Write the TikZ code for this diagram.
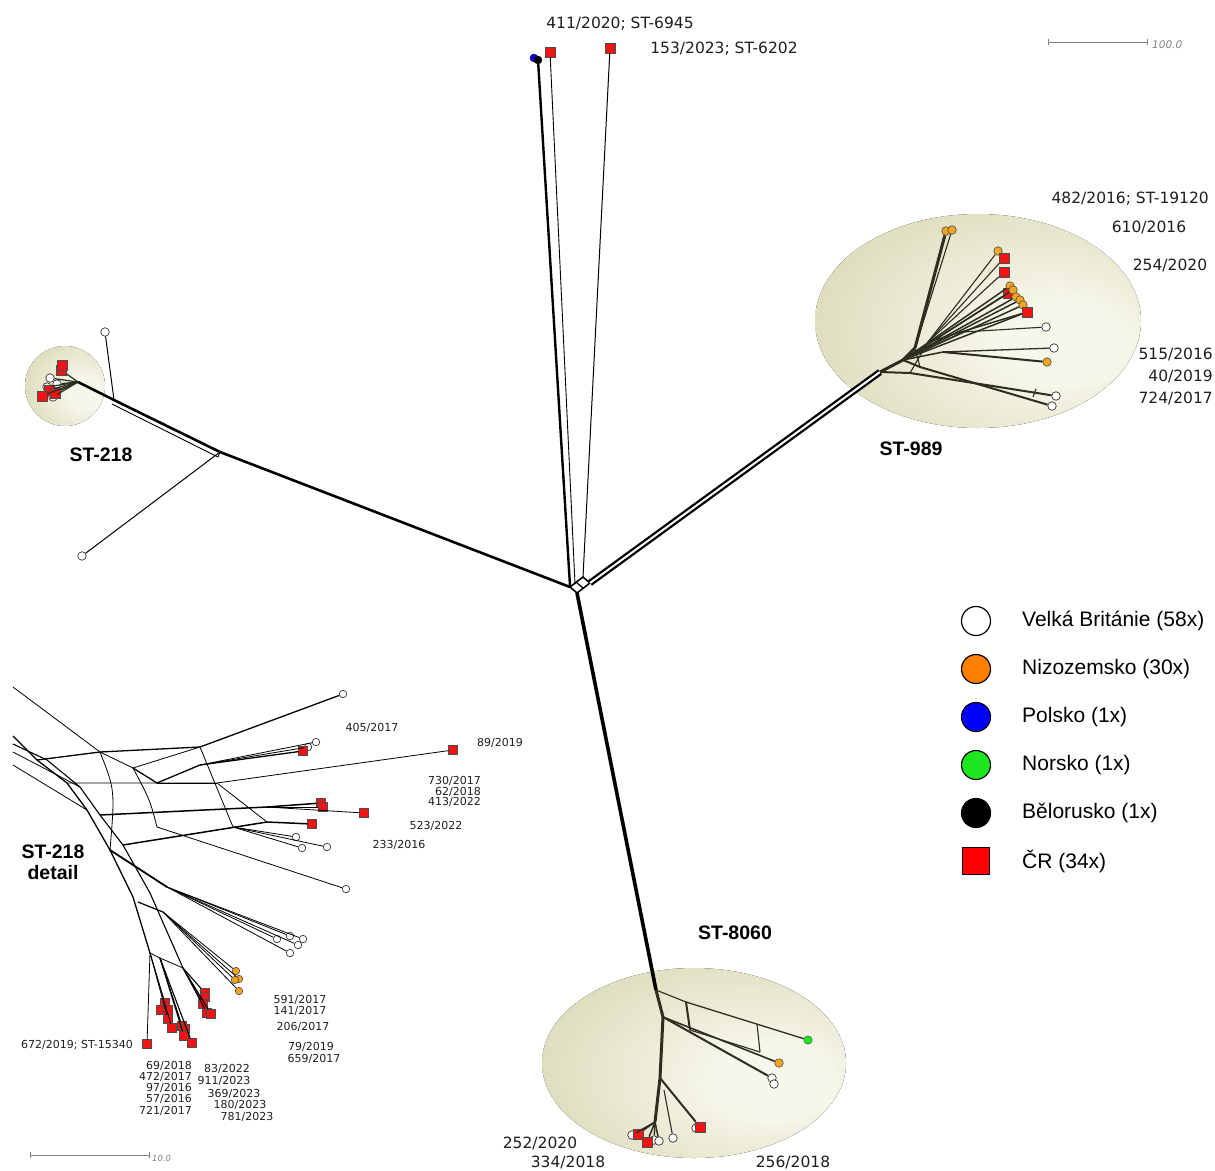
\documentclass[tikz,border=0pt]{standalone}
\usepackage{fontspec}
\setmainfont{DejaVu Sans}
\newfontfamily\arialfont{Liberation Sans}
\usepackage{xcolor}
\usetikzlibrary{arrows.meta}

\definecolor{hullin}{RGB}{246,246,234}
\definecolor{hullout}{RGB}{204,200,152}
\definecolor{fanline}{RGB}{45,45,32}
\definecolor{leaforange}{RGB}{242,165,30}
\definecolor{legorange}{RGB}{255,128,0}
\definecolor{czred}{RGB}{240,20,20}
\definecolor{legred}{RGB}{255,0,0}
\definecolor{plblue}{RGB}{0,0,255}
\definecolor{nogreen}{RGB}{30,230,30}
\definecolor{labelgray}{RGB}{30,30,30}

\pgfdeclareradialshading{hullshade}{\pgfpoint{16bp}{-6bp}}{color(0bp)=(hullin); color(10bp)=(hullin); color(50bp)=(hullout)}

\begin{document}
\begin{tikzpicture}[x=1pt,y=-1pt]
\tikzstyle{ukleaf}=[circle,draw=black!80,fill=white,inner sep=0pt,minimum size=8.5pt,line width=0.7pt]
\tikzstyle{nlleaf}=[circle,draw=black!70,fill=leaforange,inner sep=0pt,minimum size=8.5pt,line width=0.6pt]
\tikzstyle{czleaf}=[rectangle,draw=black!70,fill=czred,inner sep=0pt,minimum size=10pt,line width=0.6pt]
\tikzstyle{plleaf}=[circle,draw=black,fill=plblue,inner sep=0pt,minimum size=8pt]
\tikzstyle{byleaf}=[circle,draw=black,fill=black,inner sep=0pt,minimum size=8pt]
\tikzstyle{noleaf}=[circle,draw=black!70,fill=nogreen,inner sep=0pt,minimum size=8.5pt]
\tikzstyle{lbl}=[font=\fontsize{15.5}{17}\selectfont,text=labelgray,inner sep=0pt]
\tikzstyle{dlbl}=[font=\fontsize{11}{12}\selectfont,text=labelgray,inner sep=0pt]
\tikzstyle{stname}=[font=\arialfont\bfseries\fontsize{19.5}{21}\selectfont,align=center,inner sep=0pt]
\tikzstyle{legkey}=[circle,draw=black,line width=1.2pt,inner sep=0pt,minimum size=29pt]
\tikzstyle{legtext}=[font=\arialfont\fontsize{21}{23}\selectfont,anchor=west,inner sep=0pt]
\tikzstyle{fan}=[fanline,line width=1.1pt]
\tikzstyle{dline}=[black,line width=0.8pt]
\tikzstyle{scalebar}=[gray,line width=0.8pt,{Bar[width=6pt]}-{Bar[width=6pt]}]

\useasboundingbox (0,0) rectangle (1215,1170);

% hulls
\fill[shading=hullshade] (65,386) circle [radius=40pt];
\fill[shading=hullshade] (978,321) ellipse [x radius=163pt, y radius=107pt];
\fill[shading=hullshade] (694,1063) ellipse [x radius=152pt, y radius=95pt];

% centre box
\coordinate (hA) at (570,587);
\coordinate (hB) at (577,593);
\coordinate (hC) at (590,583);
\coordinate (hD) at (583,577);
\coordinate (hE) at (576,582);
\coordinate (hF) at (583,588);
\draw[line width=1.6pt] (hA) -- (hB) -- (hC) -- (hD) -- cycle;
\draw[line width=1.2pt] (hE) -- (hF);

% left branch, ST-218
\coordinate (l1) at (220,452);
\coordinate (l2) at (114,400);
\coordinate (l3) at (78,382);
\coordinate (l1b) at (218,457);
\coordinate (l2b) at (112,404);
\node[ukleaf] (u1) at (105,332) {};
\node[ukleaf] (u2) at (82,556) {};
\draw[line width=2.6pt] (hA) -- (l1) -- (l2) -- (l3);
\draw[line width=0.9pt] (l1b) -- (l2b);
\draw[line width=0.9pt] (l1) -- (l1b);
\draw[line width=1pt] (l1) -- (u2);
\draw[line width=1pt] (l2) -- (u1);
\node[ukleaf] (a1) at (50,378) {};
\node[ukleaf] (a2) at (47,387) {};
\node[ukleaf] (a3) at (53,397) {};
\node[ukleaf] (a4) at (57,384) {};
\node[czleaf] (r1) at (61,370) {};
\node[czleaf] (r2) at (62,365) {};
\node[czleaf] (r3) at (49,390) {};
\node[czleaf] (r4) at (55,393) {};
\node[czleaf] (r5) at (42,396) {};
\foreach \leaf in {a1,a2,a3,a4,r1,r3,r4,r5}
  \draw[fan,line width=1.2pt] (l3) -- (\leaf);
\node[stname] (st218) at (101,455) {ST-218};

% top branch
\coordinate (t1) at (570,586);
\coordinate (t2) at (575,584);
\node[plleaf] (pl) at (534,58) {};
\node[byleaf] (by) at (538,60) {};
\node[czleaf] (c1) at (550,52) {};
\node[czleaf] (c2) at (610,48) {};
\draw[line width=2.4pt] (t1) -- (by);
\draw[line width=0.9pt] (t2) -- (c1);
\draw[line width=1pt] (hD) -- (c2);
\node[lbl] (lc1) at (620,24) {411/2020; ST-6945};
\node[lbl] (lc2) at (724,49) {153/2023; ST-6202};

% right branch, ST-989
\coordinate (e0) at (880,372);
\coordinate (e1) at (903,360);
\coordinate (e2) at (915,348);
\coordinate (e3) at (928,342);
\coordinate (e4) at (943,352);
\coordinate (e5) at (963,332);
\coordinate (e6) at (910,373);
\coordinate (e7) at (920,367);
\coordinate (e8) at (1033,397);
\coordinate (e9) at (1036,389);
\draw[line width=2.3pt,double,double distance=2pt] (hC) -- (e0);
\draw[fan,line width=3pt] (e0) -- (e1) -- (e2);
\node[nlleaf] (n1) at (946,231) {};
\node[nlleaf] (n2) at (952,230) {};
\node[nlleaf] (n3) at (998,251) {};
\node[czleaf] (q1) at (1004,258) {};
\node[czleaf] (q2) at (1004,272) {};
\node[nlleaf] (n4) at (1010,286) {};
\node[czleaf] (q3) at (1008,293) {};
\node[nlleaf] (n5) at (1013,290) {};
\node[nlleaf] (n6) at (1016,297) {};
\node[nlleaf] (n7) at (1020,300) {};
\node[nlleaf] (n8) at (1023,305) {};
\node[czleaf] (q4) at (1027,312) {};
\node[ukleaf] (w1) at (1046,327) {};
\node[ukleaf] (w2) at (1054,348) {};
\node[nlleaf] (n9) at (1047,362) {};
\node[ukleaf] (w3) at (1056,396) {};
\node[ukleaf] (w4) at (1052,406) {};
\draw[fan,line width=3pt] (e2) -- (n1);
\draw[fan] (e2) -- (n2);
\foreach \leaf in {n3,q1,q2}
  \draw[fan] (e3) -- (\leaf);
\foreach \leaf in {n4,q3,n5,n6,n7,n8,q4}
  \draw[fan,line width=1.5pt] (e1) -- (\leaf);
\draw[fan,line width=1.5pt] (e3) -- (q4);
\draw[fan] (e5) -- (w1);
\draw[fan] (e1) -- (e5);
\draw[fan,line width=1.3pt] (e4) -- (w2);
\draw[fan,line width=2pt] (e4) -- (n9);
\draw[fan,line width=1.5pt] (e1) -- (e4);
\draw[fan,line width=2pt] (e0) -- (e6) -- (w3);
\draw[fan,line width=2pt] (e1) -- (e7) -- (w4);
\draw[fan] (e8) -- (e9);
\draw[fan] (e6) -- (e3);
\draw[fan] (e7) -- (e2);
\node[stname] (st989) at (911,449) {ST-989};
\node[lbl,anchor=east] (lq1) at (1209,199) {482/2016; ST-19120};
\node[lbl] (lq2) at (1149,227) {610/2016};
\node[lbl] (lq3) at (1170,265) {254/2020};
\node[lbl,anchor=east] (lq4) at (1213,354) {515/2016};
\node[lbl,anchor=east] (lq5) at (1213,376) {40/2019};
\node[lbl,anchor=east] (lq6) at (1213,398) {724/2017};

% bottom branch, ST-8060
\coordinate (b1) at (656,990);
\coordinate (b2) at (663,1017);
\coordinate (b3) at (686,1002);
\coordinate (b4) at (690,1030);
\coordinate (b5) at (660,1078);
\coordinate (b6) at (664,1090);
\coordinate (b7) at (655,1122);
\coordinate (x1) at (757,1024);
\coordinate (x2) at (760,1052);
\draw[line width=3.6pt] (hB) -- (b1);
\node[noleaf] (g1) at (808,1040) {};
\node[nlleaf] (n10) at (779,1063) {};
\node[ukleaf] (w5) at (772,1078) {};
\node[ukleaf] (w6) at (774,1084) {};
\node[ukleaf] (w7) at (696,1128) {};
\node[czleaf] (q5) at (700,1127) {};
\node[ukleaf] (w8) at (673,1138) {};
\node[ukleaf] (w9) at (632,1135) {};
\node[ukleaf] (w10) at (654,1140) {};
\node[ukleaf] (w11) at (659,1141) {};
\node[czleaf] (q6) at (638,1134) {};
\node[czleaf] (q7) at (647,1142) {};
\draw[fan,line width=3pt] (b1) -- (b2) -- (b5) -- (b7);
\draw[fan] (b1) -- (b3);
\draw[fan,line width=2pt] (b3) -- (b4);
\draw[fan,line width=1.3pt] (b3) -- (g1);
\draw[fan,line width=1.6pt] (b2) -- (n10);
\draw[fan,line width=2pt] (b2) -- (w5);
\draw[fan] (b4) -- (x2);
\draw[fan] (x1) -- (x2);
\draw[fan,line width=2pt] (b5) -- (q5);
\draw[fan] (b6) -- (w8);
\foreach \leaf in {w9,w10,w11,q6,q7}
  \draw[fan,line width=1.5pt] (b7) -- (\leaf);
\node[stname] (st8060) at (735,933) {ST-8060};
\node[lbl] (lb1) at (540,1143) {252/2020};
\node[lbl] (lb2) at (568,1162) {334/2018};
\node[lbl] (lb3) at (793,1162) {256/2018};

% ST-218 detail
\coordinate (dt) at (13,687);
\coordinate (da) at (13,736);
\coordinate (db) at (13,744);
\coordinate (dc) at (13,752);
\coordinate (dd) at (13,765);
\coordinate (sa1) at (37,760);
\coordinate (sa2) at (67,783);
\coordinate (sa3) at (87,810);
\coordinate (sa4) at (110,850);
\coordinate (sa5) at (133,897);
\coordinate (sb1) at (47,760);
\coordinate (sb2) at (80,787);
\coordinate (sb3) at (100,815);
\coordinate (sb4) at (123,845);
\coordinate (sb5) at (150,893);
\coordinate (j1) at (100,752);
\coordinate (j2) at (133,768);
\coordinate (j3) at (200,747);
\coordinate (j4) at (157,783);
\coordinate (j5) at (200,765);
\coordinate (j6) at (217,783);
\coordinate (j7) at (267,807);
\coordinate (j8) at (267,822);
\coordinate (j9) at (233,827);
\coordinate (j10) at (157,827);
\coordinate (j11) at (167,887);
\coordinate (j12) at (163,912);
\coordinate (j13) at (183,968);
\coordinate (j14) at (150,953);
\coordinate (j15) at (160,958);
\coordinate (j16) at (138,902);

\node[ukleaf,minimum size=7.5pt] (dw1) at (343,694) {};
\node[ukleaf,minimum size=7.5pt] (dw2) at (316,742) {};
\node[ukleaf,minimum size=7.5pt] (dw3) at (308,747) {};
\node[czleaf,minimum size=8.5pt] (dr1) at (303,751) {};
\node[czleaf,minimum size=8.5pt] (dr2) at (453,750) {};
\node[czleaf,minimum size=8.5pt] (dr3) at (321,803) {};
\node[czleaf,minimum size=8.5pt] (dr4) at (323,807) {};
\node[czleaf,minimum size=8.5pt] (dr5) at (364,813) {};
\node[czleaf,minimum size=8.5pt] (dr6) at (312,824) {};
\node[ukleaf,minimum size=7.5pt] (dw4) at (296,837) {};
\node[ukleaf,minimum size=7.5pt] (dw5) at (302,848) {};
\node[ukleaf,minimum size=7.5pt] (dw6) at (327,847) {};
\node[ukleaf,minimum size=7.5pt] (dw7) at (346,889) {};
\node[ukleaf,minimum size=7.5pt] (dw8) at (290,936) {};
\node[ukleaf,minimum size=7.5pt] (dw9) at (277,939) {};
\node[ukleaf,minimum size=7.5pt] (dw10) at (303,939) {};
\node[ukleaf,minimum size=7.5pt] (dw11) at (298,945) {};
\node[ukleaf,minimum size=7.5pt] (dw12) at (290,953) {};
\node[nlleaf,minimum size=7.5pt] (do1) at (236,971) {};
\node[nlleaf,minimum size=7.5pt] (do2) at (239,979) {};
\node[nlleaf,minimum size=7.5pt] (do3) at (235,980) {};
\node[nlleaf,minimum size=7.5pt] (do4) at (239,991) {};

\draw[dline] (dt) -- (j1);
\draw[dline,line width=1.3pt] (da) -- (sa1) -- (sa2) -- (sa3) -- (sa4) -- (sa5) -- (j14);
\draw[dline,line width=1.1pt] (db) -- (sb1) -- (sb2) -- (sb3) -- (sb4) -- (sb5) -- (j13);
\draw[dline] (dc) -- (sb2);
\draw[dline] (dd) -- (sa3);
\draw[dline,line width=1.3pt] (sa1) -- (j1) -- (j3) -- (dw1);
\draw[dline] (j1) -- (j2) -- (j3);
\draw[dline,line width=1.3pt] (j2) -- (j4) -- (j5) -- (dr1);
\draw[dline] (j5) -- (dw2);
\draw[dline] (j5) -- (dw3);
\draw[dline] (sa2) -- (j6) -- (dr2);
\draw[dline] (j4) -- (j6);
\draw[dline,line width=1.5pt] (sb3) -- (j7) -- (dr3);
\draw[dline] (j7) -- (dr4);
\draw[dline] (j7) -- (dr5);
\draw[dline,line width=1.5pt] (sb4) -- (j8) -- (dr6);
\draw[dline] (j9) -- (dw4);
\draw[dline] (j9) -- (dw5);
\draw[dline] (j9) -- (dw6);
\draw[dline] (j10) -- (dw7);
\draw[dline] (j3) -- (j9);
\draw[dline] (j2) .. controls (150,800) .. (j10);
\draw[dline] (j1) .. controls (115,790) .. (sa4);
\draw[dline] (j6) -- (j8);
\draw[dline,line width=1.8pt] (sa4) -- (j11);
\foreach \leaf in {dw8,dw9,dw10,dw11,dw12}
  \draw[dline] (j11) -- (\leaf);
\draw[dline,line width=1.2pt] (j16) -- (j12);
\foreach \leaf in {do1,do2,do3,do4}
  \draw[dline] (j12) -- (\leaf);
\draw[dline] (j14) -- (j15);
\draw[dline] (j15) -- (j13);

\foreach \name/\pos in {dr7/{(205,993)},dr8/{(205,997)},dr9/{(203,1004)},dr10/{(207,1013)},dr11/{(211,1014)}}
  {\node[czleaf,minimum size=8.5pt] (\name) at \pos {};}
\foreach \leaf in {dr7,dr9,dr10,dr11}
  \draw[dline,line width=1.1pt] (j13) -- (\leaf);
\foreach \name/\pos in {dr12/{(165,1003)},dr13/{(161,1010)},dr14/{(168,1010)},dr15/{(168,1019)},dr16/{(172,1028)},dr21/{(147,1044)}}
  {\node[czleaf,minimum size=8.5pt] (\name) at \pos {};}
\foreach \leaf in {dr12,dr15,dr16,dr21}
  \draw[dline] (j14) -- (\leaf);
\foreach \name/\pos in {dr17/{(182,1026)},dr18/{(185,1029)},dr19/{(184,1036)},dr20/{(192,1043)}}
  {\node[czleaf,minimum size=8.5pt] (\name) at \pos {};}
\foreach \leaf in {dr17,dr19,dr20}
  \draw[dline,line width=1.1pt] (j15) -- (\leaf);

\node[stname] (stdet) at (53,862) {ST-218\\detail};
\node[dlbl] (ld1) at (372,728) {405/2017};
\node[dlbl] (ld2) at (500,743) {89/2019};
\node[dlbl,anchor=east] (ld3) at (481,781) {730/2017};
\node[dlbl,anchor=east] (ld4) at (481,792) {62/2018};
\node[dlbl,anchor=east] (ld5) at (481,802) {413/2022};
\node[dlbl] (ld6) at (436,826) {523/2022};
\node[dlbl] (ld7) at (399,845) {233/2016};
\node[dlbl] (ld8) at (300,1000) {591/2017};
\node[dlbl] (ld9) at (300,1011) {141/2017};
\node[dlbl] (ld10) at (303,1027) {206/2017};
\node[dlbl] (ld11) at (311,1047) {79/2019};
\node[dlbl] (ld12) at (314,1059) {659/2017};
\node[dlbl] (ld13) at (77,1045) {672/2019; ST-15340};
\node[dlbl,anchor=east] (ld14) at (192,1066) {69/2018};
\node[dlbl,anchor=east] (ld15) at (192,1077) {472/2017};
\node[dlbl,anchor=east] (ld16) at (192,1088) {97/2016};
\node[dlbl,anchor=east] (ld17) at (192,1099) {57/2016};
\node[dlbl,anchor=east] (ld18) at (192,1111) {721/2017};
\node[dlbl] (ld19) at (227,1069) {83/2022};
\node[dlbl] (ld20) at (224,1081) {911/2023};
\node[dlbl] (ld21) at (234,1094) {369/2023};
\node[dlbl] (ld22) at (240,1105) {180/2023};
\node[dlbl] (ld23) at (247,1117) {781/2023};

% scale bars
\coordinate (sc1) at (1048,42);
\coordinate (sc2) at (1148,42);
\coordinate (sc3) at (30,1155);
\coordinate (sc4) at (150,1155);
\draw[scalebar] (sc1) -- (sc2);
\draw[scalebar] (sc3) -- (sc4);
\node[font=\itshape\fontsize{10.5}{12}\selectfont,text=gray,anchor=west,inner sep=0pt] (sct1) at (1152,45) {100.0};
\node[font=\itshape\fontsize{8.5}{10}\selectfont,text=gray,anchor=west,inner sep=0pt] (sct2) at (152,1158) {10.0};

% legend
\node[legkey,fill=white] (k1) at (976,621) {};
\node[legkey,fill=legorange] (k2) at (976,669) {};
\node[legkey,fill=plblue] (k3) at (976,717) {};
\node[legkey,fill=nogreen] (k4) at (976,765) {};
\node[legkey,fill=black] (k5) at (976,813) {};
\node[rectangle,draw=black,line width=1.2pt,fill=legred,inner sep=0pt,minimum size=27pt] (k6) at (976,861) {};
\node[legtext] (kt1) at (1022,621) {Velká Británie (58x)};
\node[legtext] (kt2) at (1022,669) {Nizozemsko (30x)};
\node[legtext] (kt3) at (1022,717) {Polsko (1x)};
\node[legtext] (kt4) at (1022,765) {Norsko (1x)};
\node[legtext] (kt5) at (1022,813) {Bělorusko (1x)};
\node[legtext] (kt6) at (1022,861) {ČR (34x)};
\end{tikzpicture}
\end{document}
